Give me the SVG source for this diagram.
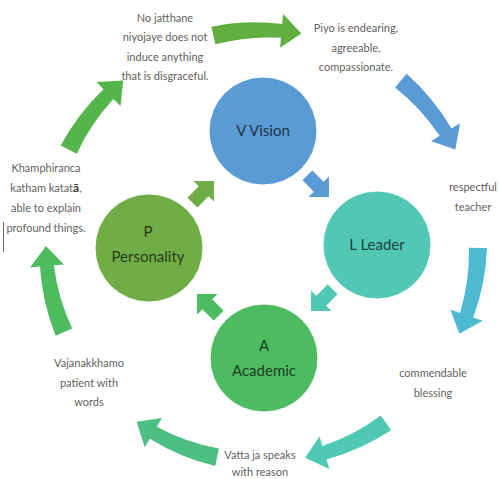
<svg xmlns="http://www.w3.org/2000/svg" xmlns:xlink="http://www.w3.org/1999/xlink" width="499" height="479" viewBox="0 0 499 479">
  <style>
    .note { font-family: Lato, "Liberation Sans", sans-serif; font-size: 11px; fill: #5f5f5f; text-anchor: middle; }
    .label { font-family: Lato, "Liberation Sans", sans-serif; font-size: 15px; fill: #000; fill-opacity: 0.7; text-anchor: middle; }
    .node circle { stroke: #ffffff; stroke-width: 1; }
  </style>
  <defs>
    <!-- curved arrow segment of the outer ring, drawn from 0deg to ~23.5deg about the origin -->
    <path id="ringArrow" d="M225,0 A224,224 0 0 1 211.84,69.65 L221.34,72.78 L198.09,86.13 L189.04,62.16 L198.54,65.28 A208,208 0 0 0 207,0 Z"/>
    <!-- short block arrow pointing along +x -->
    <path id="blockArrow" d="M-15,-7 L1,-7 L1,-14.5 L15.5,0 L1,14.5 L1,7 L-15,7 Z"/>
  </defs>

  <rect width="499" height="479" fill="#ffffff"/>

  <!-- outer ring of curved arrows -->
  <g id="ring-arrows">
    <use xlink:href="#ringArrow" transform="translate(262,246) rotate(-103)" fill="#62ae41"/>
    <use xlink:href="#ringArrow" transform="translate(262,246) rotate(-50)" fill="#5a9bd6"/>
    <use xlink:href="#ringArrow" transform="translate(262,246) rotate(0.5)" fill="#4dbad2"/>
    <use xlink:href="#ringArrow" transform="translate(262,246) rotate(55)" fill="#4fc9b4"/>
    <use xlink:href="#ringArrow" transform="translate(262,246) rotate(102)" fill="#4dbf83"/>
    <use xlink:href="#ringArrow" transform="translate(262,246) rotate(156.5)" fill="#4dbb5e"/>
    <use xlink:href="#ringArrow" transform="translate(262,246) rotate(206.5)" fill="#54b54a"/>
  </g>

  <!-- inner connectors between the four circles -->
  <g id="connectors">
    <use xlink:href="#blockArrow" transform="translate(318,186) rotate(45)" fill="#5b9bd5"/>
    <use xlink:href="#blockArrow" transform="translate(322,300) rotate(135)" fill="#52c8b4"/>
    <use xlink:href="#blockArrow" transform="translate(208,305) rotate(225)" fill="#4dbb5f"/>
    <use xlink:href="#blockArrow" transform="translate(203,192) rotate(-45)" fill="#70ad47"/>
  </g>

  <g id="vision" class="node">
    <circle cx="263" cy="131" r="54" fill="#5b9bd5"/>
    <text class="label" x="263" y="136">V Vision</text>
  </g>
  <g id="leader" class="node">
    <circle cx="377" cy="245" r="54" fill="#52c8b4"/>
    <text class="label" x="377" y="250">L Leader</text>
  </g>
  <g id="personality" class="node">
    <circle cx="149" cy="248" r="54" fill="#70ad47"/>
    <text class="label" x="148" y="237">P</text>
    <text class="label" x="148" y="262">Personality</text>
  </g>
  <g id="academic" class="node">
    <circle cx="264" cy="358" r="54" fill="#4dbb5f"/>
    <text class="label" x="264" y="351">A</text>
    <text class="label" x="264" y="376">Academic</text>
  </g>

  <!-- notes around the ring -->
  <g id="notes">
    <text class="note" x="165" y="22">No jatthane</text>
    <text class="note" x="165" y="41">niyojaye does not</text>
    <text class="note" x="165" y="61">induce anything</text>
    <text class="note" x="165" y="80">that is disgraceful.</text>

    <text class="note" x="356" y="32">Piyo is endearing,</text>
    <text class="note" x="356" y="52">agreeable,</text>
    <text class="note" x="356" y="71">compassionate.</text>

    <text class="note" x="473" y="191">respectful</text>
    <text class="note" x="473" y="211">teacher</text>

    <text class="note" x="433" y="377">commendable</text>
    <text class="note" x="433" y="397">blessing</text>

    <text class="note" x="260" y="459">Vatta ja speaks</text>
    <text class="note" x="260" y="476">with reason</text>

    <text class="note" x="89" y="367">Vajanakkhamo</text>
    <text class="note" x="89" y="387">patient with</text>
    <text class="note" x="89" y="406">words</text>

    <text class="note" x="46" y="172">Khamphiranca</text>
    <text class="note" x="46" y="192">katham katat<tspan font-weight="700" fill="#333333" font-size="12">ā</tspan>,</text>
    <text class="note" x="46" y="212">able to explain</text>
    <text class="note" x="46" y="232">profound things.</text>
    <line x1="3.5" y1="222" x2="3.5" y2="252" stroke="#666666" stroke-width="1"/>
  </g>
</svg>
